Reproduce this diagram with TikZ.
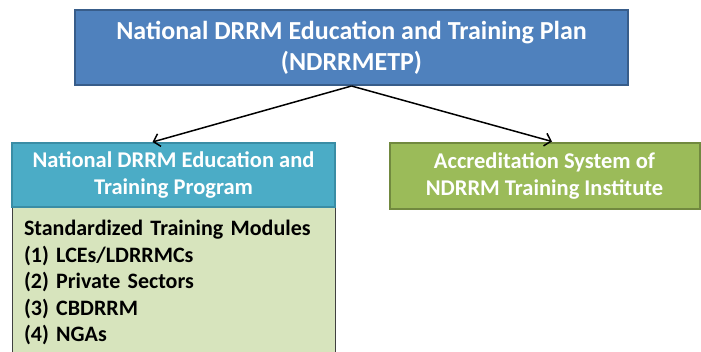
\documentclass[tikz,border=0pt]{standalone}
\usepackage{fontspec}
\setmainfont{Carlito}
\usetikzlibrary{arrows.meta}
\definecolor{planblue}{HTML}{4F81BD}
\definecolor{planedge}{HTML}{385D8A}
\definecolor{progaqua}{HTML}{4BACC6}
\definecolor{progedge}{HTML}{3A8DA5}
\definecolor{accgreen}{HTML}{9BBB59}
\definecolor{accedge}{HTML}{71893F}
\definecolor{modgreen}{HTML}{D7E4BD}
\tikzstyle{plan} = [draw=planedge, fill=planblue, line width=2pt, minimum width=553pt, minimum height=75pt, text=white, align=center, font=\fontsize{26}{31}\selectfont\bfseries]
\tikzstyle{program} = [draw=progedge, fill=progaqua, line width=2pt, minimum width=323pt, minimum height=64pt, text=white, align=center, font=\fontsize{22.5}{27}\selectfont\bfseries]
\tikzstyle{accred} = [draw=accedge, fill=accgreen, line width=2pt, minimum width=310pt, minimum height=66pt, text=white, align=center, font=\fontsize{22.5}{27}\selectfont\bfseries]
\tikzstyle{modules} = [draw=black!75, fill=modgreen, line width=1pt, text width=299pt, inner xsep=12pt, inner ysep=13pt, align=left, font=\fontsize{22}{26.5}\selectfont\bfseries]

\begin{document}
\begin{tikzpicture}[x=1pt, y=-1pt, >={Straight Barb[length=6pt,width=13pt]}]
    \useasboundingbox (0,0) rectangle (701,351);
    \node [plan] (plan) at (351.5,47.5) {National DRRM Education and Training Plan\\(NDRRMETP)};
    \node [modules, anchor=north] (modules) at (173.5,207) {Standardized Training Modules\\(1) LCEs/LDRRMCs\\(2) Private Sectors\\(3) CBDRRM\\(4) NGAs};
    \node [program] (program) at (173.5,175) {National DRRM Education and\\Training Program};
    \node [accred] (accred) at (544.5,175.5) {Accreditation System of\\NDRRM Training Institute};

    \draw [->, line width=1.5pt] (plan.south) -- ([xshift=-21pt]program.north);
    \draw [->, line width=1.5pt] (plan.south) -- ([xshift=7.5pt]accred.north);
\end{tikzpicture}
\end{document}
